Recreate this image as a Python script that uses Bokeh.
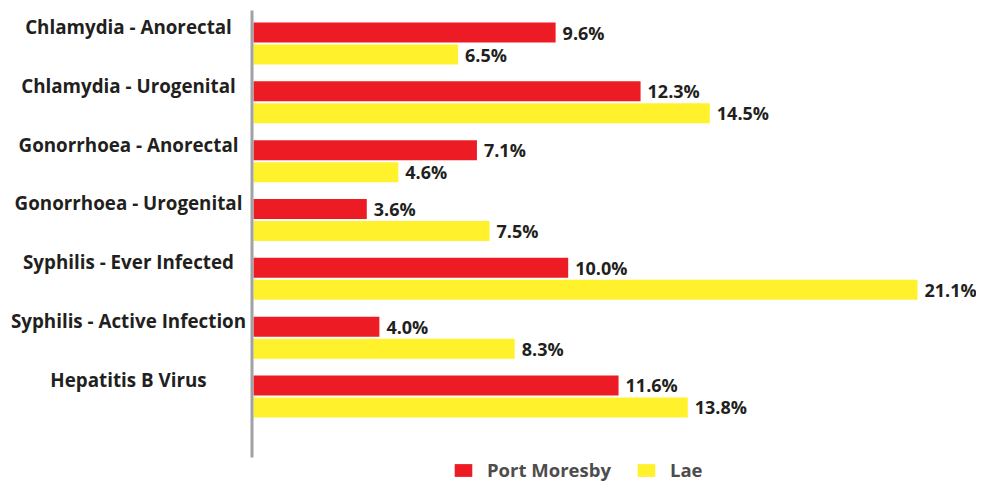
from bokeh.plotting import figure
from bokeh.models import ColumnDataSource, Range1d, Legend, LegendItem
from bokeh.transform import dodge
from bokeh.core.properties import value
from bokeh.embed import file_html
from bokeh.resources import INLINE
import numpy as np

categories = [
    "Chlamydia - Anorectal",
    "Chlamydia - Urogenital",
    "Gonorrhoea - Anorectal",
    "Gonorrhoea - Urogenital",
    "Syphilis - Ever Infected",
    "Syphilis - Active Infection",
    "Hepatitis B Virus",
]
port_moresby = [9.6, 12.3, 7.1, 3.6, 10.0, 4.0, 11.6]
lae = [6.5, 14.5, 4.6, 7.5, 21.1, 8.3, 13.8]
series_names = ["Port Moresby", "Lae"]

RED = "#ED1C24"
YELLOW = "#FFF22D"
DARK = "#231F20"

W, H = 976, 483
PX_X = 31.47         # px per percent
X0 = 253             # canvas px of x=0
PX_Y = 58.83         # px per category
Y0 = 43              # canvas px of first group centre
LABEL_CX = 128       # canvas px of category label centres

pos = np.arange(len(categories))
src = ColumnDataSource(dict(
    cat=categories,
    pos=pos,
    pm=port_moresby,
    lae=lae,
    pm_lbl=[f"{v:.1f}%" for v in port_moresby],
    lae_lbl=[f"{v:.1f}%" for v in lae],
    lab_x=[-(X0 - LABEL_CX) / PX_X] * len(categories),
))

p = figure(width=W, height=H, output_backend="svg", toolbar_location=None,
           x_range=Range1d(-X0 / PX_X, (W - X0) / PX_X),
           y_range=Range1d((H - Y0) / PX_Y, -Y0 / PX_Y),
           min_border=0, outline_line_color=None)
p.axis.visible = False
p.grid.visible = False

off = 11 / PX_Y
bh = 20 / PX_Y
r_pm = p.hbar(y=dodge("pos", -off), left=0, right="pm", height=bh, source=src,
              fill_color=RED, line_color=None)
r_lae = p.hbar(y=dodge("pos", off), left=0, right="lae", height=bh, source=src,
               fill_color=YELLOW, line_color=None)

# axis line
p.segment(x0=[-1.5 / PX_X], x1=[-1.5 / PX_X], y0=[(10 - Y0) / PX_Y], y1=[(457 - Y0) / PX_Y],
          line_color="#A0A2A5", line_width=3)

font = value("Open Sans")
p.text(x="pm", y=dodge("pos", -off), text="pm_lbl", source=src, x_offset=7,
       text_font=font, text_font_style="bold", text_font_size="18px",
       text_color=DARK, text_baseline="middle", text_align="left")
p.text(x="lae", y=dodge("pos", off), text="lae_lbl", source=src, x_offset=7,
       text_font=font, text_font_style="bold", text_font_size="18px",
       text_color=DARK, text_baseline="middle", text_align="left")
p.text(x="lab_x", y=dodge("pos", -16.5 / PX_Y), text="cat", source=src,
       text_font=font, text_font_style="bold", text_font_size="18.8px",
       text_color=DARK, text_baseline="middle", text_align="center")

legend = Legend(items=[LegendItem(label=series_names[0], renderers=[r_pm]),
                       LegendItem(label=series_names[1], renderers=[r_lae])],
                location=(452, 1), orientation="horizontal",
                glyph_width=22, glyph_height=16, label_height=16,
                label_standoff=13, spacing=24, padding=0, margin=0,
                border_line_color=None, background_fill_alpha=0,
                label_text_font="Open Sans", label_text_font_style="bold",
                label_text_font_size="18.5px", label_text_color="#4D4D4D",
                label_text_baseline="middle")
p.add_layout(legend)

open("out.html", "w").write(file_html(p, INLINE))
